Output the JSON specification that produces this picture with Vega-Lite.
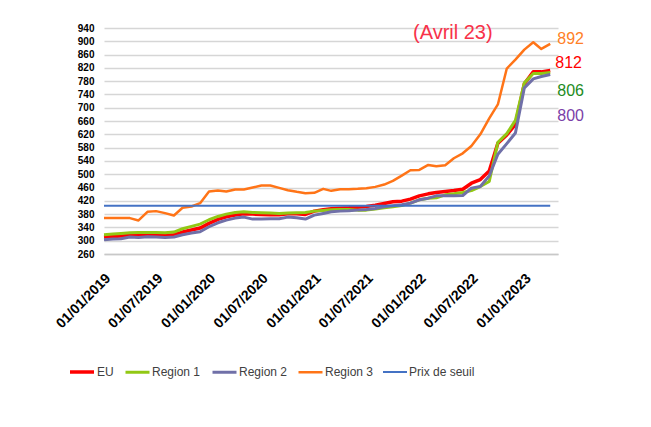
{
  "$schema": "https://vega.github.io/schema/vega-lite/v6.json",
  "width": 454,
  "height": 226,
  "autosize": {"type": "none"},
  "padding": {"left": 104, "top": 28, "right": 93, "bottom": 173},
  "background": "white",
  "title": {"text": "(Avril 23)", "anchor": "start", "frame": "group", "dx": 309, "offset": -20, "fontSize": 20, "font": "Liberation Sans", "fontWeight": "normal", "color": "#f8324a"},
  "config": {"view": {"stroke": null}},
  "data": {"values": [
    {"d": "2019-01-01", "EU": 311, "Region 1": 318, "Region 2": 303, "Region 3": 368, "Prix de seuil": 405},
    {"d": "2019-02-01", "EU": 313, "Region 1": 320, "Region 2": 305, "Region 3": 368, "Prix de seuil": 405},
    {"d": "2019-03-01", "EU": 314, "Region 1": 322, "Region 2": 306, "Region 3": 368, "Prix de seuil": 405},
    {"d": "2019-04-01", "EU": 316, "Region 1": 324, "Region 2": 311, "Region 3": 368, "Prix de seuil": 405},
    {"d": "2019-05-01", "EU": 316, "Region 1": 325, "Region 2": 310, "Region 3": 361, "Prix de seuil": 405},
    {"d": "2019-06-01", "EU": 316, "Region 1": 325, "Region 2": 312, "Region 3": 387, "Prix de seuil": 405},
    {"d": "2019-07-01", "EU": 316, "Region 1": 325, "Region 2": 311, "Region 3": 389, "Prix de seuil": 405},
    {"d": "2019-08-01", "EU": 316, "Region 1": 324, "Region 2": 310, "Region 3": 383, "Prix de seuil": 405},
    {"d": "2019-09-01", "EU": 318, "Region 1": 326, "Region 2": 311, "Region 3": 376, "Prix de seuil": 405},
    {"d": "2019-10-01", "EU": 326, "Region 1": 336, "Region 2": 318, "Region 3": 399, "Prix de seuil": 405},
    {"d": "2019-11-01", "EU": 332, "Region 1": 343, "Region 2": 323, "Region 3": 403, "Prix de seuil": 405},
    {"d": "2019-12-01", "EU": 338, "Region 1": 350, "Region 2": 327, "Region 3": 413, "Prix de seuil": 405},
    {"d": "2020-01-01", "EU": 352, "Region 1": 363, "Region 2": 342, "Region 3": 448, "Prix de seuil": 405},
    {"d": "2020-02-01", "EU": 364, "Region 1": 373, "Region 2": 354, "Region 3": 451, "Prix de seuil": 405},
    {"d": "2020-03-01", "EU": 372, "Region 1": 380, "Region 2": 362, "Region 3": 448, "Prix de seuil": 405},
    {"d": "2020-04-01", "EU": 377, "Region 1": 385, "Region 2": 368, "Region 3": 454, "Prix de seuil": 405},
    {"d": "2020-05-01", "EU": 381, "Region 1": 387, "Region 2": 371, "Region 3": 454, "Prix de seuil": 405},
    {"d": "2020-06-01", "EU": 380, "Region 1": 385, "Region 2": 365, "Region 3": 460, "Prix de seuil": 405},
    {"d": "2020-07-01", "EU": 379, "Region 1": 384, "Region 2": 365, "Region 3": 466, "Prix de seuil": 405},
    {"d": "2020-08-01", "EU": 378, "Region 1": 383, "Region 2": 366, "Region 3": 466, "Prix de seuil": 405},
    {"d": "2020-09-01", "EU": 378, "Region 1": 382, "Region 2": 366, "Region 3": 459, "Prix de seuil": 405},
    {"d": "2020-10-01", "EU": 381, "Region 1": 383, "Region 2": 371, "Region 3": 452, "Prix de seuil": 405},
    {"d": "2020-11-01", "EU": 381, "Region 1": 384, "Region 2": 369, "Region 3": 447, "Prix de seuil": 405},
    {"d": "2020-12-01", "EU": 379, "Region 1": 385, "Region 2": 365, "Region 3": 443, "Prix de seuil": 405},
    {"d": "2021-01-01", "EU": 389, "Region 1": 389, "Region 2": 377, "Region 3": 444, "Prix de seuil": 405},
    {"d": "2021-02-01", "EU": 393, "Region 1": 391, "Region 2": 382, "Region 3": 456, "Prix de seuil": 405},
    {"d": "2021-03-01", "EU": 396, "Region 1": 393, "Region 2": 387, "Region 3": 450, "Prix de seuil": 405},
    {"d": "2021-04-01", "EU": 398, "Region 1": 394, "Region 2": 389, "Region 3": 455, "Prix de seuil": 405},
    {"d": "2021-05-01", "EU": 399, "Region 1": 394, "Region 2": 390, "Region 3": 455, "Prix de seuil": 405},
    {"d": "2021-06-01", "EU": 401, "Region 1": 392, "Region 2": 392, "Region 3": 456, "Prix de seuil": 405},
    {"d": "2021-07-01", "EU": 403, "Region 1": 392, "Region 2": 394, "Region 3": 458, "Prix de seuil": 405},
    {"d": "2021-08-01", "EU": 407, "Region 1": 395, "Region 2": 397, "Region 3": 462, "Prix de seuil": 405},
    {"d": "2021-09-01", "EU": 412, "Region 1": 399, "Region 2": 402, "Region 3": 469, "Prix de seuil": 405},
    {"d": "2021-10-01", "EU": 417, "Region 1": 402, "Region 2": 405, "Region 3": 480, "Prix de seuil": 405},
    {"d": "2021-11-01", "EU": 419, "Region 1": 406, "Region 2": 408, "Region 3": 496, "Prix de seuil": 405},
    {"d": "2021-12-01", "EU": 425, "Region 1": 413, "Region 2": 413, "Region 3": 512, "Prix de seuil": 405},
    {"d": "2022-01-01", "EU": 435, "Region 1": 423, "Region 2": 423, "Region 3": 513, "Prix de seuil": 405},
    {"d": "2022-02-01", "EU": 441, "Region 1": 428, "Region 2": 428, "Region 3": 528, "Prix de seuil": 405},
    {"d": "2022-03-01", "EU": 445, "Region 1": 429, "Region 2": 435, "Region 3": 524, "Prix de seuil": 405},
    {"d": "2022-04-01", "EU": 448, "Region 1": 438, "Region 2": 435, "Region 3": 527, "Prix de seuil": 405},
    {"d": "2022-05-01", "EU": 451, "Region 1": 441, "Region 2": 435, "Region 3": 548, "Prix de seuil": 405},
    {"d": "2022-06-01", "EU": 455, "Region 1": 445, "Region 2": 436, "Region 3": 563, "Prix de seuil": 405},
    {"d": "2022-07-01", "EU": 473, "Region 1": 451, "Region 2": 458, "Region 3": 585, "Prix de seuil": 405},
    {"d": "2022-08-01", "EU": 484, "Region 1": 463, "Region 2": 463, "Region 3": 620, "Prix de seuil": 405},
    {"d": "2022-09-01", "EU": 510, "Region 1": 478, "Region 2": 495, "Region 3": 668, "Prix de seuil": 405},
    {"d": "2022-10-01", "EU": 593, "Region 1": 596, "Region 2": 560, "Region 3": 710, "Prix de seuil": 405},
    {"d": "2022-11-01", "EU": 618, "Region 1": 622, "Region 2": 592, "Region 3": 818, "Prix de seuil": 405},
    {"d": "2022-12-01", "EU": 650, "Region 1": 662, "Region 2": 624, "Region 3": 845, "Prix de seuil": 405},
    {"d": "2023-01-01", "EU": 772, "Region 1": 775, "Region 2": 760, "Region 3": 875, "Prix de seuil": 405},
    {"d": "2023-02-01", "EU": 808, "Region 1": 803, "Region 2": 787, "Region 3": 897, "Prix de seuil": 405},
    {"d": "2023-03-01", "EU": 808, "Region 1": 803, "Region 2": 794, "Region 3": 877, "Prix de seuil": 405},
    {"d": "2023-04-01", "EU": 812, "Region 1": 806, "Region 2": 800, "Region 3": 892, "Prix de seuil": 405}
  ]},
  "transform": [
    {"fold": ["EU", "Region 1", "Region 2", "Region 3", "Prix de seuil"], "as": ["series", "price"]}
  ],
  "encoding": {
    "x": {
      "field": "d", "type": "temporal",
      "scale": {"type": "utc", "domain": [{"year": 2019, "month": 1, "date": 1, "utc": true}, {"year": 2023, "month": 4, "date": 28, "utc": true}]},
      "axis": {
        "title": null, "format": "%d/%m/%Y", "grid": false, "ticks": false,
        "values": [
          {"year": 2019, "month": 1, "date": 1, "utc": true},
          {"year": 2019, "month": 7, "date": 1, "utc": true},
          {"year": 2020, "month": 1, "date": 1, "utc": true},
          {"year": 2020, "month": 7, "date": 1, "utc": true},
          {"year": 2021, "month": 1, "date": 1, "utc": true},
          {"year": 2021, "month": 7, "date": 1, "utc": true},
          {"year": 2022, "month": 1, "date": 1, "utc": true},
          {"year": 2022, "month": 7, "date": 1, "utc": true},
          {"year": 2023, "month": 1, "date": 1, "utc": true}
        ],
        "labelAngle": -45, "labelAlign": "right", "labelBaseline": "middle",
        "labelPadding": 22, "labelOffset": 4,
        "labelFont": "Liberation Sans", "labelFontWeight": "bold", "labelFontSize": 14, "labelColor": "#000000",
        "labelOverlap": false, "labelBound": false, "labelFlush": false,
        "domainColor": "#c8c8c8", "domainWidth": 1.5
      }
    },
    "y": {
      "field": "price", "type": "quantitative",
      "scale": {"domain": [260, 940], "nice": false, "zero": false},
      "axis": {
        "title": null, "values": [260, 300, 340, 380, 420, 460, 500, 540, 580, 620, 660, 700, 740, 780, 820, 860, 900, 940],
        "grid": true, "gridColor": "#d6d6d6", "gridWidth": 1.3, "domain": false, "ticks": false,
        "labelPadding": 10, "labelFont": "Liberation Sans", "labelFontWeight": "bold", "labelFontSize": 10, "labelColor": "#000000"
      }
    }
  },
  "layer": [
    {
      "mark": {"type": "line", "strokeJoin": "round", "clip": false},
      "encoding": {
        "color": {
          "field": "series", "type": "nominal",
          "scale": {"domain": ["EU", "Region 1", "Region 2", "Region 3", "Prix de seuil"], "range": ["#ff0000", "#92c814", "#7070a8", "#ff7417", "#4472c4"]},
          "legend": {
            "title": null, "orient": "none", "legendX": -36, "legendY": 330, "direction": "horizontal",
            "symbolType": "stroke", "symbolSize": 576, "symbolStrokeWidth": 3.5,
            "labelFont": "Liberation Sans", "labelFontSize": 12, "labelColor": "#404040",
            "columnPadding": 5, "labelOffset": 1, "padding": 0
          }
        },
        "strokeWidth": {
          "field": "series", "type": "nominal",
          "scale": {"type": "ordinal", "domain": ["EU", "Region 1", "Region 2", "Region 3", "Prix de seuil"], "range": [3.5, 3, 3, 2.5, 2]},
          "legend": null
        }
      }
    },
    {
      "transform": [{"filter": "utcyear(datum.d) == 2023 && utcmonth(datum.d) == 3 && datum.series == 'Region 3'"}],
      "mark": {"type": "text", "align": "left", "baseline": "middle", "dx": 7, "dy": -5, "font": "Liberation Sans", "fontSize": 16, "color": "#ff7f27"},
      "encoding": {"text": {"field": "price", "type": "quantitative"}}
    },
    {
      "transform": [{"filter": "utcyear(datum.d) == 2023 && utcmonth(datum.d) == 3 && datum.series == 'EU'"}],
      "mark": {"type": "text", "align": "left", "baseline": "middle", "dx": 5, "dy": -7.5, "font": "Liberation Sans", "fontSize": 16, "color": "#ff0000"},
      "encoding": {"text": {"field": "price", "type": "quantitative"}}
    },
    {
      "transform": [{"filter": "utcyear(datum.d) == 2023 && utcmonth(datum.d) == 3 && datum.series == 'Region 1'"}],
      "mark": {"type": "text", "align": "left", "baseline": "middle", "dx": 7, "dy": 18.5, "font": "Liberation Sans", "fontSize": 16, "color": "#1e8c1e"},
      "encoding": {"text": {"field": "price", "type": "quantitative"}}
    },
    {
      "transform": [{"filter": "utcyear(datum.d) == 2023 && utcmonth(datum.d) == 3 && datum.series == 'Region 2'"}],
      "mark": {"type": "text", "align": "left", "baseline": "middle", "dx": 7, "dy": 41.5, "font": "Liberation Sans", "fontSize": 16, "color": "#7b3fa8"},
      "encoding": {"text": {"field": "price", "type": "quantitative"}}
    }
  ]
}
